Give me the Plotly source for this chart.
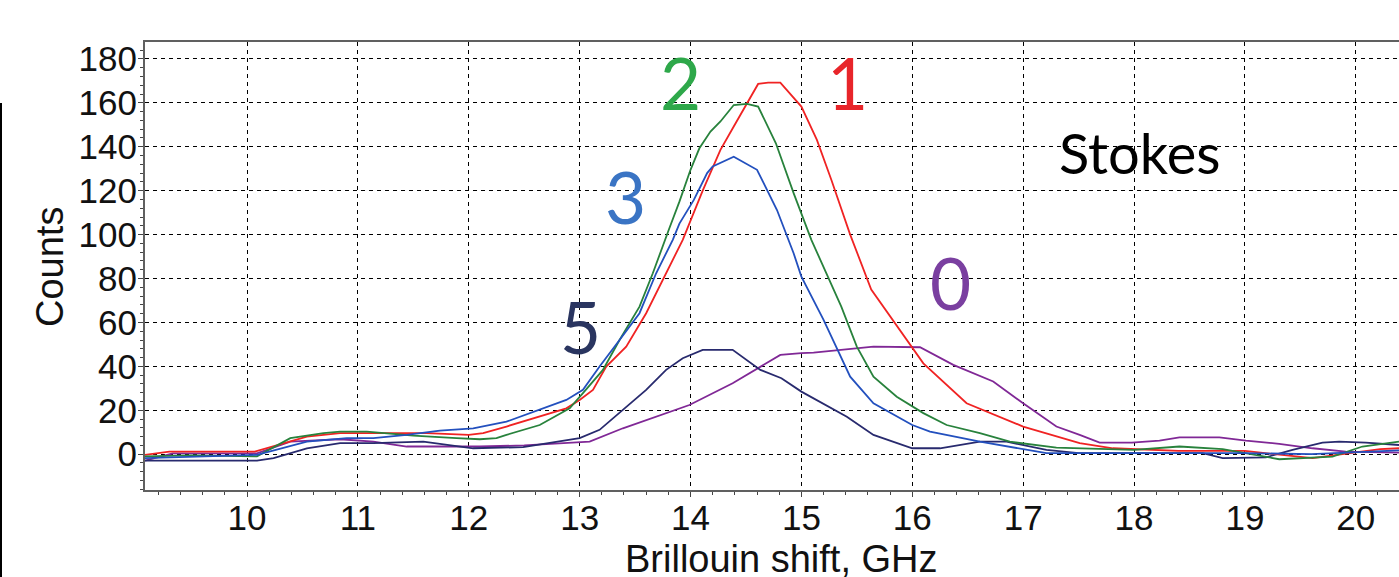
import plotly.graph_objects as go

# ---- data ----
x_red = [9.08, 9.3, 10.07, 10.54, 10.84, 11.14, 11.62, 12.0, 12.13, 12.34, 12.64, 12.88, 13.0, 13.12,
         13.24, 13.42, 13.6, 13.75, 13.93, 14.11, 14.27, 14.39, 14.51, 14.61, 14.7, 14.81, 15.0, 15.14,
         15.27, 15.44, 15.63, 16.1, 16.49, 17.0, 17.51, 17.81, 18.4, 19.0, 19.61, 20.22, 20.39]
y_red = [-0.3, 1.2, 1.2, 8.0, 9.6, 9.6, 9.6, 8.8, 9.6, 12.6, 17.1, 20.9, 24.7, 29.3,
         39.9, 49.0, 64.2, 79.4, 97.6, 120.0, 138.6, 149.2, 160.1, 168.6, 169.2, 169.2, 158.3, 143.1,
         125.0, 100.0, 75.0, 41.4, 23.2, 12.6, 5.0, 2.7, 1.5, 1.5, -1.8, 2.3, 2.7]

x_green = [9.08, 9.5, 10.09, 10.39, 10.69, 10.84, 11.08, 11.5, 11.89, 12.1, 12.25, 12.34, 12.64, 12.91,
           13.03, 13.21, 13.36, 13.54, 13.66, 13.72, 13.81, 13.9, 14.0, 14.08, 14.18, 14.27, 14.39, 14.51,
           14.61, 14.77, 14.93, 15.09, 15.36, 15.5, 15.65, 15.86, 16.1, 16.31, 16.61, 16.88, 17.3, 18.0,
           18.41, 18.8, 19.01, 19.31, 19.79, 20.06, 20.39]
y_green = [-1.0, -0.5, -1.0, 7.3, 9.6, 10.3, 10.3, 8.5, 7.3, 6.8, 7.3, 8.8, 13.3, 20.9,
           27.8, 38.4, 52.0, 67.2, 82.4, 91.0, 103.0, 115.0, 129.5, 139.3, 146.9, 151.5, 159.0, 159.5,
           158.3, 141.6, 118.9, 97.6, 67.2, 49.0, 35.3, 26.2, 18.7, 13.3, 9.6, 5.7, 3.0, 2.0,
           3.5, 2.3, 0.5, -2.3, -1.1, 3.5, 5.7]

x_blue = [9.08, 10.09, 10.54, 10.9, 11.14, 11.44, 11.74, 12.04, 12.34, 12.64, 12.88, 13.03, 13.18, 13.36,
          13.54, 13.69, 13.84, 13.9, 14.03, 14.15, 14.2, 14.39, 14.6, 14.78, 14.93, 15.0, 15.2, 15.44,
          15.65, 16.0, 16.16, 16.61, 17.21, 18.0, 19.0, 19.6, 20.39]
y_blue = [-1.8, -0.3, 5.7, 7.3, 7.3, 8.8, 10.7, 11.8, 14.8, 20.2, 24.7, 29.3, 39.9, 52.0,
          64.2, 82.4, 97.6, 105.0, 115.8, 128.0, 131.0, 135.5, 129.5, 111.2, 91.5, 80.9, 61.2, 35.3,
          23.2, 13.3, 10.3, 5.7, 0.5, 0.5, 0.5, 0.0, 1.7]

x_navy = [9.08, 10.09, 10.24, 10.54, 10.84, 11.14, 11.59, 11.89, 12.04, 12.49, 12.79, 13.0, 13.18, 13.39,
          13.6, 13.78, 13.93, 14.11, 14.38, 14.63, 14.82, 15.0, 15.41, 15.65, 16.0, 16.25, 16.61, 16.85,
          17.21, 17.5, 18.62, 18.8, 19.19, 19.43, 19.7, 19.85, 20.09, 20.39]
y_navy = [-2.9, -2.9, -1.8, 2.7, 5.0, 5.0, 5.7, 3.5, 2.7, 3.2, 5.7, 7.3, 11.1, 20.2,
          29.3, 38.4, 43.7, 47.5, 47.5, 38.4, 34.6, 28.5, 17.1, 8.8, 2.7, 2.7, 5.7, 5.7,
          2.0, 0.5, 0.5, -1.8, -1.4, 2.0, 5.3, 5.7, 5.3, 4.2]

x_purple = [9.08, 9.33, 10.09, 10.39, 10.84, 11.14, 11.44, 12.1, 12.5, 13.09, 13.39, 13.9, 13.99, 14.38,
            14.63, 14.81, 15.0, 15.11, 15.65, 16.07, 16.37, 16.73, 17.0, 17.3, 17.51, 17.69, 17.98, 18.23,
            18.41, 18.77, 19.01, 19.31, 19.61, 19.91, 20.39]
y_purple = [-2.9, 0.4, 0.4, 5.7, 6.8, 5.7, 3.5, 3.5, 4.0, 5.7, 11.8, 20.9, 22.4, 32.3,
            39.9, 45.2, 46.0, 46.3, 49.0, 48.7, 40.7, 33.1, 23.2, 12.6, 8.8, 5.3, 5.3, 6.2,
            7.7, 7.7, 6.2, 4.7, 2.7, 1.2, 0.7]

series_labels = ["0", "5", "1", "2", "3"]
x_ticks = [10, 11, 12, 13, 14, 15, 16, 17, 18, 19, 20]
y_ticks = [0, 20, 40, 60, 80, 100, 120, 140, 160, 180]

# ---- figure ----
W, H = 1399, 577
L, R, T, B = 145, 0, 42, 87
pw, ph = W - L - R, H - T - B


def px(xp):
    return (xp - L) / pw


def py(yp):
    return (H - B - yp) / ph


fig = go.Figure()
traces = [
    (x_purple, y_purple, "rgb(128,40,150)"),
    (x_navy, y_navy, "rgb(40,42,110)"),
    (x_red, y_red, "rgb(240,35,35)"),
    (x_green, y_green, "rgb(40,130,60)"),
    (x_blue, y_blue, "rgb(35,80,190)"),
]
for (xs, ys, c), name in zip(traces, series_labels):
    fig.add_trace(go.Scatter(x=xs, y=ys, mode="lines", name=name,
                             line=dict(color=c, width=1.8), showlegend=False))

tick_font = dict(family="Liberation Sans, Arial, sans-serif", size=35, color="#111")

fig.update_layout(
    width=W, height=H,
    margin=dict(l=L, r=R, t=T, b=B, pad=0, autoexpand=False),
    paper_bgcolor="white", plot_bgcolor="white",
    xaxis=dict(range=[9.08, 20.39], tickmode="array", tickvals=x_ticks,
               ticktext=[str(v) for v in x_ticks], automargin=False,
               showgrid=True, gridcolor="black", gridwidth=1, griddash="4px,4px",
               zeroline=False, showline=True, linecolor="#606060", linewidth=2, mirror=True,
               ticks="outside", ticklen=5, tickcolor="#444", tickwidth=1,
               ticklabelstandoff=-9,
               minor=dict(dtick=0.2, tick0=10, ticks="outside", ticklen=3, tickcolor="#444",
                          showgrid=False),
               tickfont=tick_font),
    yaxis=dict(range=[-16.3, 187.7], tickmode="array", tickvals=y_ticks,
               ticktext=[str(v) for v in y_ticks], automargin=False,
               showgrid=True, gridcolor="black", gridwidth=1, griddash="4px,4px",
               zeroline=False, showline=True, linecolor="#606060", linewidth=2, mirror=False,
               ticks="outside", ticklen=5, tickcolor="#444", tickwidth=1,
               ticklabelstandoff=-6,
               minor=dict(dtick=4, tick0=0, ticks="outside", ticklen=3, tickcolor="#444",
                          showgrid=False),
               tickfont=tick_font),
)

title_font = dict(family="Liberation Sans, Arial, sans-serif", size=38, color="#111")
fig.add_annotation(text="Brillouin shift, GHz", xref="paper", yref="paper",
                   x=px(781), y=py(559), xanchor="center", yanchor="middle",
                   showarrow=False, font=title_font)
fig.add_annotation(text="Counts", xref="paper", yref="paper",
                   x=px(50), y=py(267), xanchor="center", yanchor="middle",
                   textangle=-90, showarrow=False, font=title_font)

label_font = "Lato, Open Sans, sans-serif"
labels = [
    ("2", 680, 83, "rgb(46,168,74)"),
    ("1", 847, 83, "rgb(232,37,42)"),
    ("3", 625, 196, "rgb(58,116,196)"),
    ("5", 580, 326, "rgb(42,53,96)"),
    ("0", 950, 282, "rgb(122,63,160)"),
]
for t, xp, yp, c in labels:
    fig.add_annotation(text=t, xref="paper", yref="paper", x=px(xp), y=py(yp),
                       xanchor="center", yanchor="middle", showarrow=False,
                       font=dict(family=label_font, size=71, color=c))
fig.add_annotation(text="Stokes", xref="paper", yref="paper", x=px(1139), y=py(152),
                   xanchor="center", yanchor="middle", showarrow=False,
                   font=dict(family=label_font, size=56, color="black"))

# thin black rule at the left edge of the picture
fig.add_shape(type="line", xref="paper", yref="paper",
              x0=px(1), x1=px(1), y0=py(103), y1=py(577),
              line=dict(color="black", width=2))

# remove the browser's default page margin so the figure fills the window exactly
fig.write_html("out.html",
               config={"displayModeBar": False},
               post_script="document.body.style.margin='0';"
                           "document.body.style.overflow='hidden';")
